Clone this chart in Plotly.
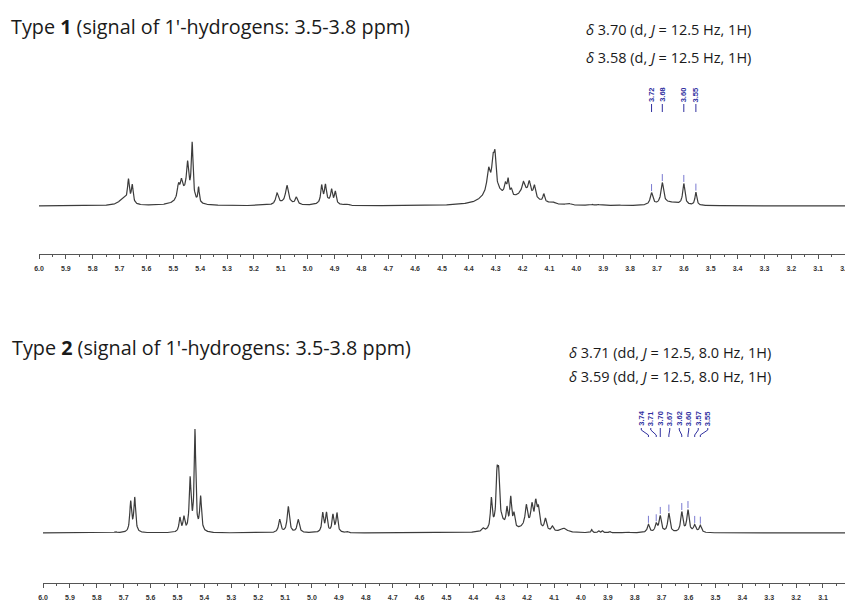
import numpy as np
import plotly.graph_objects as go

W, H = 853, 601
# page body offset compensation (browser default body margin)
OX, OY = 8, 8

# ---------------- data ----------------
# Type 1 spectrum: peak shifts (ppm), relative heights, half-widths (ppm)
type1_shift = [5.685, 5.667, 5.653, 5.46, 5.481, 5.470, 5.447, 5.430, 5.406,
               5.08, 5.114, 5.077, 5.042, 4.93, 4.948, 4.934, 4.911, 4.897, 4.86, 4.85,
               4.31, 4.327, 4.310, 4.303, 4.264, 4.254, 4.242, 4.19, 4.197, 4.175, 4.156,
               4.121, 4.09, 4.03, 3.94, 3.92, 3.91, 3.85, 3.65]
type1_height = [7, 22, 18, 12, 13, 13, 32, 56, 15,
                3, 11, 17, 7, 4, 17, 16, 13, 12, 1, 1,
                19, 20, 24, 27, 11, 16, 7, 12, 10, 12, 12,
                8, 2, 1.5, 1, 1, 1, 1, 3]
type1_hwhm = [0.02, 0.004, 0.004, 0.025, 0.005, 0.005, 0.005, 0.004, 0.003,
              0.03, 0.006, 0.006, 0.005, 0.025, 0.004, 0.004, 0.004, 0.004, 0.004, 0.004,
              0.035, 0.006, 0.005, 0.004, 0.005, 0.004, 0.004, 0.04, 0.006, 0.005, 0.005,
              0.004, 0.01, 0.01, 0.004, 0.004, 0.004, 0.01, 0.04]
# Type 1 labelled 1'-H peaks
type1_peak_shift = [3.72, 3.68, 3.60, 3.555]
type1_peak_height = [12, 21, 21, 13]
type1_peak_hwhm = [0.006, 0.006, 0.005, 0.004]
type1_labels = ["3.72", "3.68", "3.60", "3.55"]

# Type 2 spectrum
type2_shift = [5.73, 5.674, 5.659, 5.491, 5.476, 5.453, 5.435, 5.414,
               5.12, 5.088, 5.051, 4.96, 4.946, 4.922, 4.907, 4.87,
               4.364, 4.30, 4.333, 4.312, 4.306, 4.275, 4.261, 4.249,
               4.20, 4.203, 4.182, 4.168, 4.158, 4.132, 4.106, 4.064,
               3.96, 3.934, 3.92, 3.893, 3.83]
type2_height = [1, 30, 34, 14, 14, 52, 100, 34,
                13, 26, 13, 19, 19, 17, 19, 1.5,
                3, 10, 30, 45, 42, 18, 30, 14,
                6, 20, 21, 24, 19, 12, 5, 4,
                3, 2, 2, 1.5, 1]
type2_hwhm = [0.005, 0.004, 0.004, 0.004, 0.004, 0.004, 0.0035, 0.004,
              0.005, 0.005, 0.005, 0.004, 0.004, 0.004, 0.004, 0.004,
              0.005, 0.02, 0.004, 0.004, 0.004, 0.004, 0.004, 0.004,
              0.03, 0.005, 0.005, 0.005, 0.005, 0.005, 0.005, 0.015,
              0.003, 0.003, 0.003, 0.003, 0.01]
# Type 2 labelled 1'-H peaks
type2_peak_shift = [3.749, 3.72, 3.705, 3.673, 3.625, 3.602, 3.577, 3.556]
type2_peak_height = [8, 8, 16, 19, 20, 22, 7, 7]
type2_peak_hwhm = [0.005, 0.005, 0.005, 0.005, 0.005, 0.005, 0.005, 0.005]
type2_labels = ["3.74", "3.71", "3.70", "3.67", "3.62", "3.60", "3.57", "3.55"]

ppm_tick_values = [round(6.0 - 0.1 * i, 1) for i in range(31)]

# ---------------- build spectra ----------------
ppm = np.linspace(6.0, 3.0, 3001)


def lorentz_sum(x, shifts, heights, widths):
    y = np.zeros_like(x)
    for s, h, w in zip(shifts, heights, widths):
        y += h / (1.0 + ((x - s) / w) ** 2)
    return y


spec1 = lorentz_sum(ppm, type1_shift + type1_peak_shift,
                    type1_height + type1_peak_height,
                    type1_hwhm + type1_peak_hwhm)
spec2 = lorentz_sum(ppm, type2_shift + type2_peak_shift,
                    type2_height + type2_peak_height,
                    type2_hwhm + type2_peak_hwhm)

LINE = "#3c3c3c"
BLUE = "#30309f"

fig = go.Figure()
fig.add_trace(go.Scatter(x=ppm, y=spec1, mode="lines", line=dict(color=LINE, width=1.2),
                         xaxis="x", yaxis="y", hoverinfo="skip"))
fig.add_trace(go.Scatter(x=ppm, y=spec2, mode="lines", line=dict(color=LINE, width=1.2),
                         xaxis="x2", yaxis="y2", hoverinfo="skip"))

# small blue peak-pick marks just above labelled peaks
for shifts, spec, xa, ya in [(type1_peak_shift, spec1, "x", "y"),
                             (type2_peak_shift, spec2, "x2", "y2")]:
    tops = [float(np.interp(-s, -ppm, spec)) for s in shifts]
    fig.add_trace(go.Scatter(x=shifts, y=[t + 5 for t in tops], mode="markers",
                             marker=dict(symbol="line-ns", size=5,
                                         line=dict(color="#7a7ad0", width=1)),
                             xaxis=xa, yaxis=ya, hoverinfo="skip"))

annotations = []
LABEL_FONT = dict(size=7.5, color=BLUE, family="Liberation Sans", weight="bold")
# Type 1 labels: straight connectors
for s, lab in zip(type1_peak_shift, type1_labels):
    fig.add_trace(go.Scatter(x=[s, s], y=[102, 94], mode="lines",
                             line=dict(color=BLUE, width=1), xaxis="x", yaxis="y",
                             hoverinfo="skip"))
    annotations.append(dict(x=s, y=102, xref="x", yref="y", text=lab, textangle=-90,
                            showarrow=False, yanchor="bottom", xanchor="center",
                            font=LABEL_FONT))

# Type 2 labels: spread out with bent connectors
n2 = len(type2_labels)
center2 = 3.652
spread = 0.0353
for i, (s, lab) in enumerate(zip(type2_peak_shift, type2_labels)):
    lx = center2 + (n2 - 1) / 2 * spread - i * spread
    fig.add_trace(go.Scatter(x=[lx, lx, s, s], y=[105, 103, 98, 96], mode="lines",
                             line=dict(color=BLUE, width=1), xaxis="x2", yaxis="y2",
                             hoverinfo="skip"))
    annotations.append(dict(x=lx, y=105, xref="x2", yref="y2", text=lab, textangle=-90,
                            showarrow=False, yanchor="bottom", xanchor="center",
                            font=LABEL_FONT))

TITLE_FONT = dict(family="Open Sans", size=19.8, color="#1a1a1a")
DELTA_FONT = dict(family="Open Sans", size=14.5, color="#1a1a1a")


def px(xp):
    return (xp - OX) / W


def py(yp):
    return 1 - (yp - OY) / H


annotations += [
    dict(x=px(9), y=py(27), xref="paper", yref="paper", xanchor="left", yanchor="middle",
         text="Type <b>1</b> (signal of 1'-hydrogens: 3.5-3.8 ppm)", showarrow=False,
         font=TITLE_FONT),
    dict(x=px(10), y=py(347), xref="paper", yref="paper", xanchor="left", yanchor="middle",
         text="Type <b>2</b> (signal of 1'-hydrogens: 3.5-3.8 ppm)", showarrow=False,
         font=TITLE_FONT),
    dict(x=px(584), y=py(30), xref="paper", yref="paper", xanchor="left", yanchor="middle",
         text="<i>δ</i> 3.70 (d, <i>J</i> = 12.5 Hz, 1H)", showarrow=False, font=DELTA_FONT),
    dict(x=px(584), y=py(57), xref="paper", yref="paper", xanchor="left", yanchor="middle",
         text="<i>δ</i> 3.58 (d, <i>J</i> = 12.5 Hz, 1H)", showarrow=False, font=DELTA_FONT),
    dict(x=px(567), y=py(352), xref="paper", yref="paper", xanchor="left", yanchor="middle",
         text="<i>δ</i> 3.71 (dd, <i>J</i> = 12.5, 8.0 Hz, 1H)", showarrow=False, font=DELTA_FONT),
    dict(x=px(567), y=py(376), xref="paper", yref="paper", xanchor="left", yanchor="middle",
         text="<i>δ</i> 3.59 (dd, <i>J</i> = 12.5, 8.0 Hz, 1H)", showarrow=False, font=DELTA_FONT),
]

axis_common = dict(
    showline=True, linecolor="#555555", linewidth=1, mirror=False,
    ticks="outside", ticklen=4, tickcolor="#555555", tickwidth=1,
    tickvals=ppm_tick_values, ticktext=[f"{v:.1f}" for v in ppm_tick_values],
    tickfont=dict(size=7, color="#333333", family="Liberation Sans", weight="bold"),
    ticklabelstandoff=4,
    minor=dict(dtick=0.05, tick0=3.0, ticks="outside", ticklen=2, tickcolor="#555555", showgrid=False),
    showgrid=False, zeroline=False, fixedrange=True, automargin=False,
)

fig.update_layout(
    width=W, height=H, margin=dict(l=0, r=0, t=0, b=0, autoexpand=False),
    paper_bgcolor="white", plot_bgcolor="white", showlegend=False,
    xaxis=dict(domain=[px(39), px(845)], range=[6.0, 3.0], anchor="y", **axis_common),
    yaxis=dict(domain=[py(254), py(80)], range=[-48, 126], visible=False, fixedrange=True),
    xaxis2=dict(domain=[px(43), px(848)], range=[6.0, 3.007], anchor="y2", **axis_common),
    yaxis2=dict(domain=[py(583), py(395)], range=[-50, 138], visible=False, fixedrange=True),
    annotations=annotations,
)

fig.write_html("out.html")
